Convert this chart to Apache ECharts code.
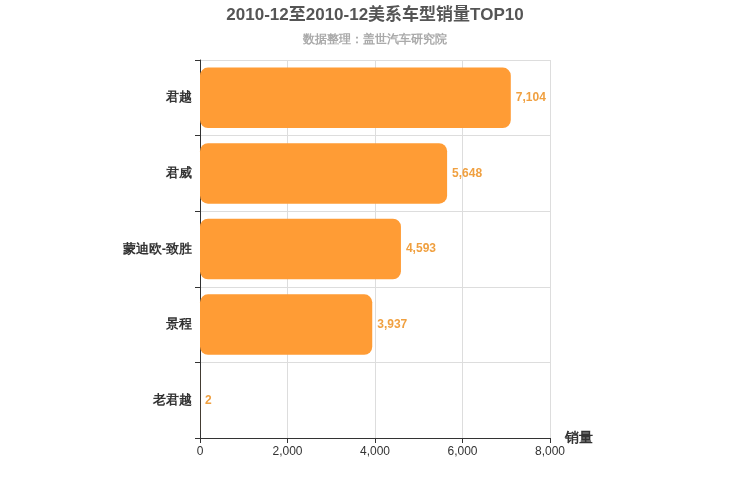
<!DOCTYPE html>
<html><head><meta charset="utf-8">
<script src="https://cdn.jsdelivr.net/npm/echarts@6/dist/echarts.min.js"></script>
<style>html,body{margin:0;padding:0}#c{width:750px;height:500px}</style>
</head><body><div id="c"></div>
<script>
const categories = ['君越','君威','蒙迪欧-致胜','景程','老君越'];
const sales = [7104, 5648, 4593, 3937, 2];
const xTicks = [0, 2000, 4000, 6000, 8000];
const chart = echarts.init(document.getElementById('c'));
chart.setOption({
  title: {text:'2010-12至2010-12美系车型销量TOP10', subtext:'数据整理：盖世汽车研究院', left:'center', top:2,
    textStyle:{fontSize:17,fontWeight:'bold',color:'#555',fontFamily:'Liberation Sans, Noto Sans CJK SC'},
    subtextStyle:{fontSize:12,color:'#aaa',fontWeight:'bold'}, itemGap:10},
  grid:{left:200,right:200,top:60,bottom:62},
  xAxis:{type:'value',min:xTicks[0],max:xTicks[xTicks.length-1],interval:2000,name:'销量',
    nameTextStyle:{fontSize:14,fontWeight:'bold',color:'#333',padding:[28,0,0,0]},
    axisLine:{show:true,lineStyle:{color:'#333'}},axisTick:{show:true},
    axisLabel:{color:'#333',fontSize:12},splitLine:{lineStyle:{color:'#ddd'}}},
  yAxis:{type:'category',data:categories,inverse:true,
    axisLine:{lineStyle:{color:'#333'}},axisTick:{show:true,length:5},
    axisLabel:{color:'#333',fontSize:13,fontWeight:'bold',margin:8},
    splitLine:{show:true,lineStyle:{color:'#ddd'}}},
  series:[{type:'bar',data:sales,barWidth:'80%',
    itemStyle:{color:'#ff9c35',borderRadius:8},
    label:{show:true,position:'right',color:'#f0a040',fontSize:12,fontWeight:'bold',
      formatter:p=>p.value.toLocaleString('en-US')}}]
});
</script></body></html>
